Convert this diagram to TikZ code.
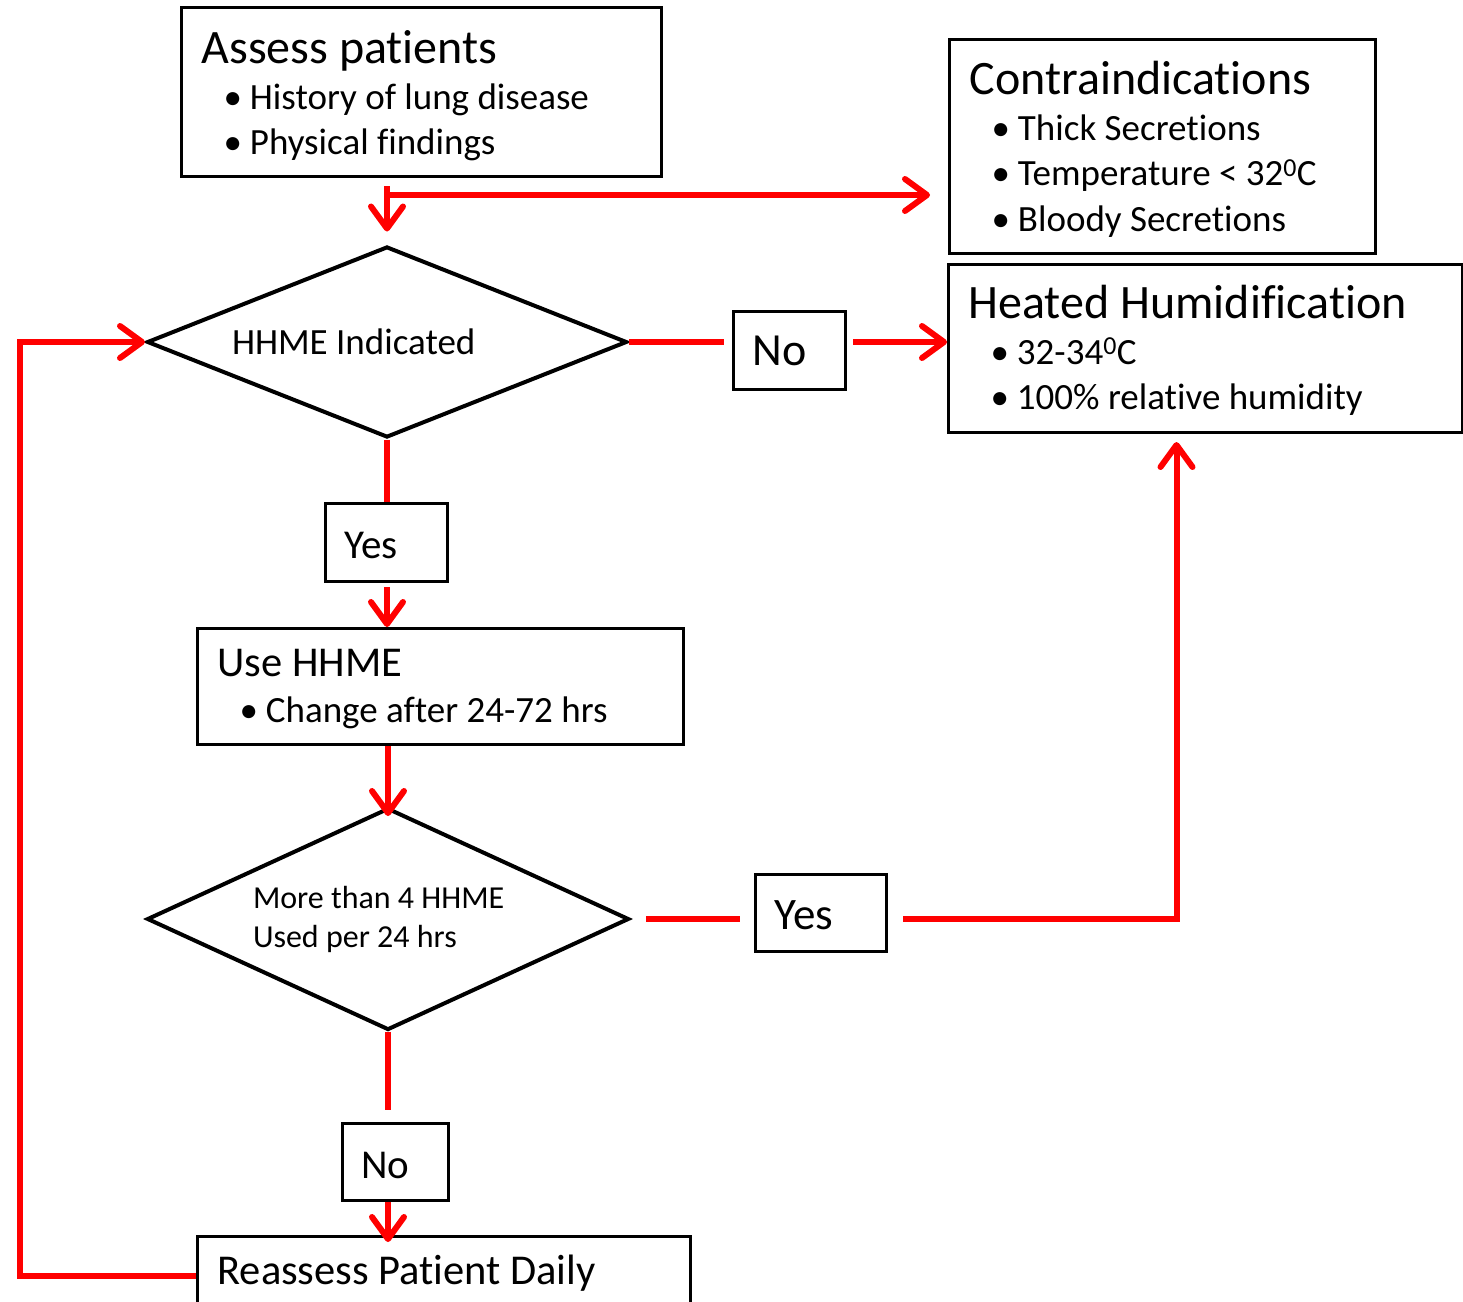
\documentclass[tikz,border=0pt]{standalone}
\usepackage{fontspec}
\setmainfont{Carlito}[Ligatures=NoCommon]
\usetikzlibrary{shapes.geometric, arrows.meta}

\newcommand{\headfont}{\fontsize{48}{48}\selectfont}
\newcommand{\stepfont}{\fontsize{42.5}{42.5}\selectfont}
\newcommand{\listfont}{\fontsize{37}{45.5}\selectfont}
\newcommand{\bpt}{\hspace*{22pt}\textbullet\hspace{8pt}}

\begin{document}
\begin{tikzpicture}[x=1pt, y=-1pt,
    box/.style={draw, line width=3pt, anchor=north west, align=flush left,
        inner xsep=20pt, inner ysep=0pt, font=\listfont},
    answer/.style={box, inner xsep=19pt},
    decision/.style={draw, diamond, line width=4pt, aspect=2.5, inner sep=0pt,
        align=flush left, font=\fontsize{37}{39}\selectfont},
    link/.style={draw=red, line width=6pt},
    flow/.style={link, -{Straight Barb[length=22pt, width=32pt, round]}}]
    \useasboundingbox (0,0) rectangle (1463,1301);

    % boxes
    \node[box, text width=440pt, text height=56pt, text depth=113pt] (assess) at (180,6)
        {{\headfont Assess patients}\\ \bpt History of lung disease\\ \bpt Physical findings};
    \node[box, text width=386pt, text height=55pt, text depth=159pt] (contra) at (948,38)
        {{\headfont Contraindications}\\ \bpt Thick Secretions\\
         \bpt Temperature < 32\textsuperscript{0}C\\ \bpt Bloody Secretions};
    \node[box, text width=474pt, text height=54pt, text depth=114pt] (heat) at (947,263)
        {{\headfont Heated Humidification}\\ \bpt 32-34\textsuperscript{0}C\\ \bpt 100\% relative humidity};
    \node[box, text width=446pt, text height=48pt, text depth=68pt] (use) at (196,627)
        {{\stepfont Use HHME}\\ \bpt Change after 24-72 hrs};
    \node[box, text width=453pt, text height=48pt, text depth=30pt, font=\stepfont] (reassess) at (196,1235)
        {Reassess Patient Daily};

    % decisions
    \node[decision, minimum width=480pt, minimum height=191pt, text width=310pt] (dia1) at (387,342)
        {HHME Indicated};
    \node[decision, minimum width=482pt, minimum height=222pt, text width=270pt,
        font=\fontsize{32}{39}\selectfont] (dia2) at (388,919)
        {More than 4 HHME\\Used per 24 hrs};

    % answers
    \node[answer, text width=84pt, text height=55pt, text depth=23pt, font=\fontsize{41}{41}\selectfont] (yes1) at (324,502) {Yes};
    \node[answer, text width=74pt, text height=54pt, text depth=24pt, font=\fontsize{46}{46}\selectfont] (no1) at (732,310) {No};
    \node[answer, text width=93pt, text height=55pt, text depth=22pt, font=\fontsize{45}{45}\selectfont] (yes2) at (754,873) {Yes};
    \node[answer, text width=68pt, text height=55pt, text depth=22pt, font=\fontsize{41}{41}\selectfont] (no2) at (341,1122) {No};

    % connectors
    \coordinate (fork) at (388,195);
    \draw[flow, shorten <=8pt, shorten >=13pt] (dia1.north |- assess.south) -- (dia1.north);
    \draw[flow, shorten >=18pt] (fork) -- (fork -| contra.west);
    \draw[link, shorten >=8pt] (dia1.east) -- (dia1.east -| no1.west);
    \draw[flow, shorten <=6pt] (no1.east |- dia1.east) -- (dia1.east -| heat.west);
    \draw[link] (dia1.south) -- (dia1.south |- yes1.north);
    \draw[flow, shorten <=4pt] (dia1.south |- yes1.south) -- (dia1.south |- use.north);
    \draw[flow, shorten >=-10pt] (dia2.north |- use.south) -- (dia2.north);
    \draw[link, shorten <=15pt, shorten >=14pt] (dia2.east) -- (dia2.east -| yes2.west);
    \draw[flow, shorten <=15pt, shorten >=8pt] (yes2.east |- dia2.east) -| ([xshift=-29pt]heat.south);
    \draw[link, shorten >=12pt] (dia2.south) -- (dia2.south |- no2.north);
    \draw[flow, shorten >=-7pt] (dia2.south |- no2.south) -- (dia2.south |- reassess.north);
    \draw[flow] (reassess.west) -- ++(-176,0) |- (dia1.west);
\end{tikzpicture}
\end{document}
